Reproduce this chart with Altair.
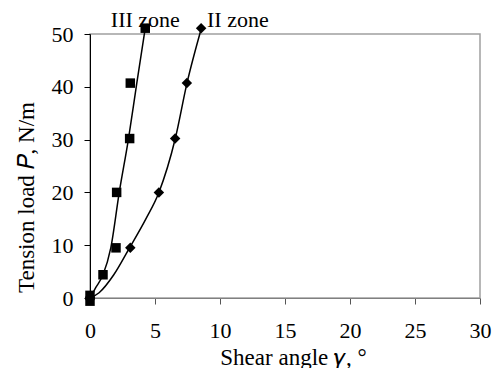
import altair as alt
import pandas as pd

# Data
iii_x = [0.0, 0.0, 1.0, 2.0, 2.05, 3.05, 3.1, 4.25]
iii_y = [0.5, -0.6, 4.4, 9.5, 20.0, 30.2, 40.7, 51.1]
ii_x = [0.0, 3.1, 5.3, 6.55, 7.45, 8.55]
ii_y = [0.0, 9.5, 20.0, 30.2, 40.7, 51.1]

# Trend curves
iii_cx = [0.0, 0.45, 1.0, 1.6, 2.25, 2.95, 3.6, 4.25]
iii_cy = [0.0, 2.0, 4.4, 9.5, 20.0, 30.0, 40.7, 51.1]
ii_cx = [0.0, 0.7, 1.83, 3.04, 4.3, 5.3, 6.56, 7.46, 8.57]
ii_cy = [0.0, 1.0, 4.4, 9.5, 15.0, 20.0, 30.2, 40.7, 51.1]

zone_names = ["III zone", "II zone"]
zone_x = [1.6, 9.0]
zone_y = [51.4, 51.4]

FONT = "Liberation Serif"

pts_iii = pd.DataFrame({"x": iii_x, "y": iii_y})
pts_ii = pd.DataFrame({"x": ii_x, "y": ii_y})
cur = pd.concat([
    pd.DataFrame({"x": iii_cx, "y": iii_cy, "s": "III"}),
    pd.DataFrame({"x": ii_cx, "y": ii_cy, "s": "II"}),
])
lab = pd.DataFrame({"name": zone_names, "x": zone_x, "y": zone_y})

xs = alt.Scale(domain=[0, 30], nice=False)
ys = alt.Scale(domain=[0, 50], nice=False)

xax = alt.Axis(
    values=[0, 5, 10, 15, 20, 25, 30], grid=False, tickSize=6,
    domainColor="#808080", tickColor="#555555", labelColor="black",
    labelFont=FONT, labelFontSize=22, labelPadding=16, labelFlush=False,
    title="Shear angle 𝛾, °", titleFont=FONT, titleFontSize=23,
    titleFontWeight="normal", titleColor="black",
    titleX=203, titleY=59, titleBaseline="middle", titleAlign="center",
)
yax = alt.Axis(
    values=[0, 10, 20, 30, 40, 50], grid=False, tickSize=6,
    domainColor="black", tickColor="black", labelColor="black",
    labelFont=FONT, labelFontSize=22, labelPadding=11, labelFlush=False,
    title="Tension load 𝑃, N/m", titleFont=FONT, titleFontSize=23,
    titleFontWeight="normal", titleColor="black",
    titleX=-64, titleY=163, titleBaseline="middle", titleAlign="center",
    titleAngle=-90,
)

lines = alt.Chart(cur).mark_line(color="black", strokeWidth=1.5, interpolate="monotone").encode(
    x=alt.X("x:Q", scale=xs, axis=xax),
    y=alt.Y("y:Q", scale=ys, axis=yax),
    detail="s:N",
)
sq = alt.Chart(pts_iii).mark_point(shape="square", filled=True, color="black", size=90, opacity=1).encode(
    x=alt.X("x:Q", scale=xs), y=alt.Y("y:Q", scale=ys)
)
dm = alt.Chart(pts_ii).mark_point(shape="diamond", filled=True, color="black", size=110, opacity=1).encode(
    x=alt.X("x:Q", scale=xs), y=alt.Y("y:Q", scale=ys)
)
txt = alt.Chart(lab).mark_text(font=FONT, fontSize=22, align="left", baseline="alphabetic", color="black").encode(
    x=alt.X("x:Q", scale=xs), y=alt.Y("y:Q", scale=ys), text="name:N"
)

chart = alt.layer(lines, sq, dm, txt).properties(
    width=390, height=264,
    autosize=alt.AutoSizeParams(type="none"),
    padding={"left": 82, "top": 26, "right": 12, "bottom": 70},
    background="white",
).configure_view(stroke="#a0a0a0", strokeWidth=1.5)

chart.save("out.html", embed_options={"renderer": "svg", "actions": False})
